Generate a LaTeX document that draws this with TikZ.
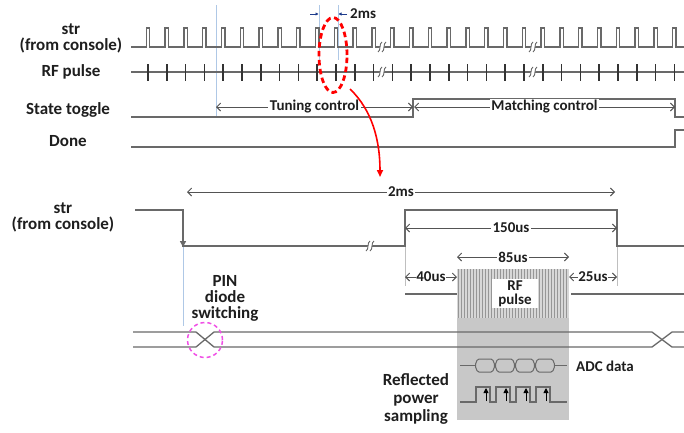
\documentclass[tikz,border=0pt]{standalone}
\usepackage{fontspec}
\setmainfont{Carlito}
\usetikzlibrary{arrows.meta,shapes.geometric}
\definecolor{sig}{RGB}{105,105,105}
\definecolor{txt}{RGB}{30,30,30}
\definecolor{guidec}{RGB}{175,200,230}
\definecolor{boxgray}{RGB}{200,200,200}
\definecolor{hatchbg}{RGB}{215,215,215}
\definecolor{hatchln}{RGB}{150,150,150}
\definecolor{dimblue}{RGB}{30,60,140}
\definecolor{pinmag}{RGB}{240,80,230}
\tikzset{
  lbl/.style={font=\fontsize{17}{16}\selectfont\bfseries, text=txt, align=center, inner sep=0pt},
  smlbl/.style={font=\fontsize{15}{14}\selectfont\bfseries, text=txt, align=center, inner sep=0pt},
  dimlbl/.style={font=\fontsize{15}{14}\selectfont\bfseries, text=txt, fill=white, inner sep=1.5pt},
  sigline/.style={draw=sig, line width=1.3pt},
  tickline/.style={draw=black!80, line width=1.7pt},
  dimarrow/.style={draw=sig!80!black, line width=0.9pt, {Straight Barb[length=4pt,width=8pt]}-{Straight Barb[length=4pt,width=8pt]}},
  guideline/.style={draw=guidec, line width=0.6pt},
  brk/.pic={
    \fill[white] (-4,5) -- (0,-5) -- (4,-5) -- (0,5) -- cycle;
    \draw[sig, line width=0.9pt] (-4,5) .. controls (-1,4) and (-3,-4) .. (0,-5);
    \draw[sig, line width=0.9pt] (0,5) .. controls (3,4) and (1,-4) .. (4,-5);
  }
}
\begin{document}
\begin{tikzpicture}[x=1pt,y=-1pt]
\fill[white] (0,0) rectangle (684,432);
\useasboundingbox (0,0) rectangle (684,432);

% ---------- guide lines (top) ----------
\draw[guideline] (216,5) -- (216,118);
\draw[guideline] (319,5) -- (319,60);
\draw[guideline] (338,5) -- (338,60);

% ---------- labels (top) ----------
\node[lbl] (lstr) at (71,38) {str\\(from console)};
\node[lbl] (lrf) at (71,72) {RF pulse};
\node[lbl] (lstate) at (68,110) {State toggle};
\node[lbl] (ldone) at (68,141) {Done};

% ---------- str (top) ----------
\draw[sigline] (131,47) foreach \k in {0,...,28}{ -- ({148+18.8*\k-1.7},47) -- ++(0,-19) -- ++(3.4,0) -- ++(0,19)} -- (684,47);
\pic at (382,47) {brk};
\pic at (533,47) {brk};

% ---------- RF pulse (top) ----------
\draw[sigline] (131,72) -- (684,72);
\foreach \k in {0,...,28}{ \draw[tickline] ({148+18.8*\k},64) -- ({148+18.8*\k},81); }
\pic at (382,72) {brk};
\pic at (533,72) {brk};

% ---------- State toggle / Done ----------
\draw[sigline] (131,117) -- (413,117) -- (413,99) -- (675,99) -- (675,117) -- (684,117);
\draw[sigline] (131,147) -- (675,147) -- (675,130) -- (684,130);
\draw[dimarrow] (216,107) -- node[dimlbl] (ltune) {Tuning control} (413,107);
\draw[dimarrow] (414,107) -- node[dimlbl] (lmatch) {Matching control} (675,107);

% ---------- 2ms (top) ----------
\draw[dimblue, line width=0.8pt, -{Triangle[length=3pt,width=3pt]}] (310,14) -- (318.5,14);
\draw[dimblue, line width=0.8pt, -{Triangle[length=3pt,width=3pt]}] (347,14) -- (338.5,14);
\node[smlbl, anchor=west] (l2mstop) at (350,14) {2ms};

% ---------- zoom ellipse and arrow ----------
\node[draw=red, ellipse, line width=2.8pt, dash pattern=on 5.5pt off 3.5pt, minimum width=28pt, minimum height=75pt, inner sep=0pt] (zoomell) at (333,55) {};
\coordinate (zoomstart) at (350,89);
\coordinate (zoomtip) at (380,177);
\draw[red, line width=1.6pt, -{Triangle[length=7pt,width=6pt]}] (zoomstart) .. controls (372,110) and (380,140) .. (zoomtip);

% ---------- bottom: labels ----------
\node[lbl] (lstr2) at (63,217) {str\\(from console)};
\node[lbl] (lpin) at (225,298) {PIN\\diode\\switching};
\node[lbl, font=\fontsize{17}{18}\selectfont\bfseries] (lrefl) at (416,399) {Reflected\\power\\sampling};

% ---------- bottom guides ----------
\draw[guideline] (183,246) -- (183,326);
\draw[draw=black!25, line width=0.6pt] (405,228) -- (405,286);
\draw[draw=black!25, line width=0.6pt] (617,228) -- (617,286);

% ---------- gray box and RF block ----------
\fill[boxgray] (457,269) rectangle (569,420);
\fill[hatchbg] (457,269) rectangle (569,318);
\foreach \x in {458,461,...,568}{ \draw[hatchln, line width=0.8pt] (\x,269) -- (\x,318); }
\node[fill=white, minimum width=46pt, minimum height=29pt, inner sep=0pt, smlbl] (rfbox) at (515,293.5) {RF\\pulse};

% ---------- bottom: str ----------
\draw[sigline] (135,210) -- (183,210) -- (183,246) -- (405,246) -- (405,210) -- (617,210) -- (617,246) -- (684,246);
\draw[sig, line width=1.3pt, -{Triangle[length=6pt,width=6pt]}] (183,226) -- (183,247);
\pic at (370,246) {brk};

% ---------- bottom: dimensions ----------
\draw[dimarrow] (187,192) -- node[dimlbl] (l2ms) {2ms} (615,192);
\draw[dimarrow] (405,228) -- node[dimlbl] (l150) {150us} (617,228);
\draw[dimarrow] (457,257) -- node[dimlbl] (l85) {85us} (569,257);
\draw[dimarrow] (405,277) -- node[dimlbl, inner sep=0.5pt] (l40) {40us} (457,277);
\draw[dimarrow] (569,277) -- node[dimlbl, inner sep=0.5pt] (l25) {25us} (617,277);

% ---------- bottom: RF pulse line ----------
\draw[sigline] (405,294) -- (457,294);
\draw[sigline] (571,294) -- (684,294);

% ---------- bus lines ----------
\draw[sigline] (133,332) -- (196,332) -- (214,347) -- (652,347) -- (672,332) -- (684,332);
\draw[sigline] (133,347) -- (196,347) -- (214,332) -- (652,332) -- (672,347) -- (684,347);
\node[circle, draw=pinmag, dash pattern=on 4pt off 3pt, line width=1.5pt, minimum size=35pt, inner sep=0pt] (pinring) at (205,340) {};

% ---------- ADC data ----------
\draw[sigline, line width=1pt] (460,365.5) -- (475,365.5);
\draw[sigline, line width=1pt] (555,365.5) -- (567,365.5);
\foreach \i in {0,1,2,3}{
  \draw[sigline, line width=1pt, rounded corners=1.5pt] ({475+20*\i},365.5) -- ++(2.5,-6.5) -- ++(15,0) -- ++(2.5,6.5) -- ++(-2.5,6.5) -- ++(-15,0) -- cycle;
}
\node[smlbl, anchor=west] (ladc) at (576,366) {ADC data};

% ---------- sampling clock ----------
\draw[sigline, line width=1.1pt] (460,402) -- (476,402) -- (476,387) -- (490,387) -- (490,402)
  -- (496,402) -- (496,387) -- (510,387) -- (510,402)
  -- (516,402) -- (516,387) -- (530,387) -- (530,402)
  -- (536,402) -- (536,387) -- (550,387) -- (550,402) -- (567,402);
\foreach \x in {486,506,526,546}{
  \draw[black, line width=0.9pt, -{Triangle[length=5pt,width=5pt]}] (\x,401) -- (\x,388);
}
\end{tikzpicture}
\end{document}
